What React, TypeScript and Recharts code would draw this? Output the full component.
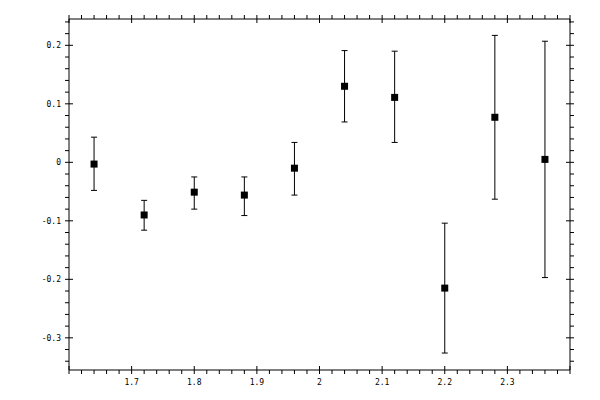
import { ScatterChart, Scatter, XAxis, YAxis, ErrorBar } from "recharts";

const xValues = [1.64, 1.72, 1.8, 1.88, 1.96, 2.04, 2.12, 2.2, 2.28, 2.36];
const yValues = [-0.003, -0.09, -0.051, -0.056, -0.01, 0.13, 0.111, -0.215, 0.077, 0.005];
const yUpper = [0.043, -0.065, -0.025, -0.025, 0.034, 0.191, 0.19, -0.104, 0.217, 0.207];
const yLower = [-0.048, -0.116, -0.08, -0.091, -0.056, 0.069, 0.034, -0.326, -0.063, -0.197];

const xTickLabels = ["1.7", "1.8", "1.9", "2", "2.1", "2.2", "2.3"];
const yTickLabels = ["0.2", "0.1", "0", "-0.1", "-0.2", "-0.3"];

const X_DOMAIN: [number, number] = [1.6, 2.4];
const Y_DOMAIN: [number, number] = [-0.355, 0.245];

const data = xValues.map((x, i) => ({
  x,
  y: yValues[i],
  err: [yValues[i] - yLower[i], yUpper[i] - yValues[i]],
}));

// minor ticks every 0.02, majors every 0.1
function stepTicks(from: number, to: number) {
  const out: number[] = [];
  for (let k = Math.round(from * 50); k <= Math.round(to * 50); k++) out.push(k / 50);
  return out;
}
const xTicks = stepTicks(1.6, 2.4);
const yTicks = stepTicks(-0.34, 0.24);

const isMajor = (v: number) => Math.abs(v * 10 - Math.round(v * 10)) < 1e-6;
const fmt = (v: number) => String(Math.round(v * 10) / 10);

const FONT = "'DejaVu Sans Mono', monospace";

function XTick({ x, y, payload, side }: any) {
  const v = payload.value;
  const major = isMajor(v);
  const dir = side === "top" ? -1 : 1;
  const label = fmt(v);
  return (
    <g>
      {major ? (
        <line x1={x} x2={x} y1={y - 4} y2={y + 4} stroke="#000" />
      ) : (
        <line x1={x} x2={x} y1={y} y2={y + dir * 4} stroke="#000" />
      )}
      {side === "bottom" && major && xTickLabels.includes(label) && (
        <text x={x} y={y + 15} textAnchor="middle" fontSize={8} fontFamily={FONT} fill="#000">
          {label}
        </text>
      )}
    </g>
  );
}

function YTick({ x, y, payload, side }: any) {
  const v = payload.value;
  const major = isMajor(v);
  const dir = side === "right" ? 1 : -1;
  const label = fmt(v);
  return (
    <g>
      {major ? (
        <line x1={x - 4} x2={x + 4} y1={y} y2={y} stroke="#000" />
      ) : (
        <line x1={x} x2={x + dir * 4} y1={y} y2={y} stroke="#000" />
      )}
      {side === "left" && major && yTickLabels.includes(label) && (
        <text x={x - 8} y={y} dy={3} textAnchor="end" fontSize={8} fontFamily={FONT} fill="#000">
          {label}
        </text>
      )}
    </g>
  );
}

function Square({ cx, cy }: any) {
  return <rect x={cx - 3.5} y={cy - 3.5} width={7} height={7} fill="#000" />;
}

const Nothing = () => <g />;

export default function App() {
  return (
    <div style={{ position: "absolute", left: 0, top: 0, background: "#fff" }}>
      <ScatterChart width={600} height={400} margin={{ top: 18, right: 29, bottom: 0, left: 0 }}>
        <XAxis
          xAxisId="b"
          dataKey="x"
          type="number"
          domain={X_DOMAIN}
          ticks={xTicks}
          interval={0}
          height={30}
          tickSize={0}
          tickMargin={0}
          axisLine={{ stroke: "#000" }}
          tickLine={false}
          tick={<XTick side="bottom" />}
          allowDataOverflow
        />
        <XAxis
          xAxisId="t"
          dataKey="x"
          orientation="top"
          type="number"
          domain={X_DOMAIN}
          ticks={xTicks}
          interval={0}
          height={1}
          tickSize={0}
          tickMargin={0}
          axisLine={{ stroke: "#000" }}
          tickLine={false}
          tick={<XTick side="top" />}
          allowDataOverflow
        />
        <YAxis
          yAxisId="l"
          dataKey="y"
          type="number"
          domain={Y_DOMAIN}
          ticks={yTicks}
          interval={0}
          width={69}
          tickSize={0}
          tickMargin={0}
          axisLine={{ stroke: "#000" }}
          tickLine={false}
          tick={<YTick side="left" />}
          allowDataOverflow
        />
        <YAxis
          yAxisId="r"
          dataKey="y"
          orientation="right"
          type="number"
          domain={Y_DOMAIN}
          ticks={yTicks}
          interval={0}
          width={1}
          tickSize={0}
          tickMargin={0}
          axisLine={{ stroke: "#000" }}
          tickLine={false}
          tick={<YTick side="right" />}
          allowDataOverflow
        />
        {/* invisible series so the top/right frame axes get drawn */}
        <Scatter
          data={data}
          xAxisId="t"
          yAxisId="r"
          shape={<Nothing />}
          isAnimationActive={false}
        />
        <Scatter
          data={data}
          xAxisId="b"
          yAxisId="l"
          shape={<Square />}
          isAnimationActive={false}
        >
          <ErrorBar dataKey="err" direction="y" width={3} stroke="#000" strokeWidth={1} />
        </Scatter>
      </ScatterChart>
    </div>
  );
}
